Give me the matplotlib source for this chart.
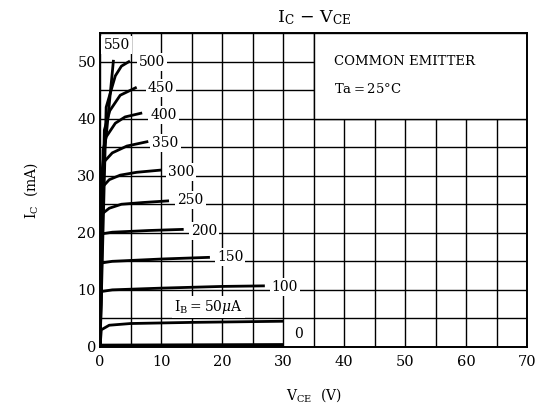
import matplotlib
matplotlib.use("Agg")
import matplotlib.pyplot as plt
from matplotlib.patches import Rectangle

plt.rcParams['font.family'] = 'DejaVu Serif'
plt.rcParams['mathtext.fontset'] = 'dejavuserif'

# I_B curves (uA) -> points (VCE [V], IC [mA])
ib_labels = ['0', '50', '100', '150', '200', '250', '300', '350', '400', '450', '500', '550']
vce_0 = [0, 30]
ic_0 = [0.2, 0.3]
vce_50 = [0, 0.2, 1.5, 5, 15, 30]
ic_50 = [0, 3.0, 3.8, 4.1, 4.3, 4.5]
vce_100 = [0, 0.2, 2, 10, 20, 27]
ic_100 = [0, 9.7, 10.0, 10.3, 10.6, 10.7]
vce_150 = [0, 0.2, 2, 10, 18]
ic_150 = [0, 14.7, 15.0, 15.4, 15.7]
vce_200 = [0, 0.2, 2, 8, 13.7]
ic_200 = [0, 19.8, 20.1, 20.4, 20.6]
vce_250 = [0, 0.2, 1.5, 3.5, 7, 11.3]
ic_250 = [0, 23.2, 24.3, 25.0, 25.3, 25.6]
vce_300 = [0, 0.3, 1.5, 3.3, 6, 10.1]
ic_300 = [0, 27.9, 29.3, 30.1, 30.6, 31.0]
vce_350 = [0, 0.4, 0.8, 2, 4.4, 7.9]
ic_350 = [0, 31.0, 32.6, 34.0, 35.2, 36.0]
vce_400 = [0, 0.5, 1.0, 2.5, 4.1, 6.9]
ic_400 = [0, 34.5, 36.8, 39.2, 40.3, 41.0]
vce_450 = [0, 0.7, 1.6, 3.3, 6.0]
ic_450 = [0, 38.0, 41.4, 44.1, 45.5]
vce_500 = [0, 1.0, 2.5, 3.5, 4.9]
ic_500 = [0, 42.0, 47.5, 49.2, 50.1]
vce_550 = [0, 0.3, 1.1, 2.2]
ic_550 = [0, 30.6, 38.0, 50.3]

curves = [(vce_0, ic_0), (vce_50, ic_50), (vce_100, ic_100), (vce_150, ic_150),
          (vce_200, ic_200), (vce_250, ic_250), (vce_300, ic_300), (vce_350, ic_350),
          (vce_400, ic_400), (vce_450, ic_450), (vce_500, ic_500), (vce_550, ic_550)]

# label positions for each curve
label_x = [32.5, 17.8, 30.3, 21.3, 17.0, 14.8, 13.3, 10.7, 10.4, 10.0, 8.5, 2.7]
label_y = [2.3, 7.0, 10.5, 15.8, 20.3, 25.7, 30.7, 35.7, 40.7, 45.4, 49.9, 52.9]

fig = plt.figure(figsize=(5.38, 4.13), dpi=100)
ax = fig.add_axes([0.186, 0.160, 0.794, 0.760])

ax.set_xlim(0, 70)
ax.set_ylim(0, 55)
ax.set_xticks(range(0, 71, 10))
ax.set_yticks(range(0, 51, 10))
ax.set_xticks(range(0, 71, 5), minor=True)
ax.set_yticks(range(0, 56, 5), minor=True)
ax.grid(which='both', color='black', linewidth=1.0, zorder=1)
ax.set_axisbelow(True)
ax.tick_params(which='both', length=0, labelsize=10.5)
ax.tick_params(axis='x', pad=6)
ax.tick_params(axis='y', pad=3)
for s in ax.spines.values():
    s.set_linewidth(1.4)

# white box top right
ax.add_patch(Rectangle((35, 40), 35, 15, facecolor='white', edgecolor='black',
                       linewidth=1.0, zorder=2))
ax.text(38.3, 50.1, 'COMMON EMITTER', fontsize=9.5, va='center', ha='left', zorder=3)
ax.text(38.3, 45.2, 'Ta$=$25°C', fontsize=9.5, va='center', ha='left', zorder=3)

for i, (x, y) in enumerate(curves):
    lw = 3.0 if i == 0 else 2.0
    ax.plot(x, y, color='black', linewidth=lw, zorder=4, solid_capstyle='butt')
    if i == 1:
        txt = r'I$_\mathregular{B}$$=$50$\mu$A'
    else:
        txt = ib_labels[i]
    ax.text(label_x[i], label_y[i], txt, fontsize=10, ha='center', va='center', zorder=5,
            bbox=dict(facecolor='white', edgecolor='none', pad=1.5))

ax.set_title(r'I$_\mathregular{C}$ $-$ V$_\mathregular{CE}$', fontsize=12.5, pad=8)
ax.set_xlabel(r'V$_\mathregular{CE}$  (V)', fontsize=10, labelpad=12)
ax.set_ylabel(r'I$_\mathregular{C}$  (mA)', fontsize=10, labelpad=27)

fig.savefig('out.png', dpi=100)
